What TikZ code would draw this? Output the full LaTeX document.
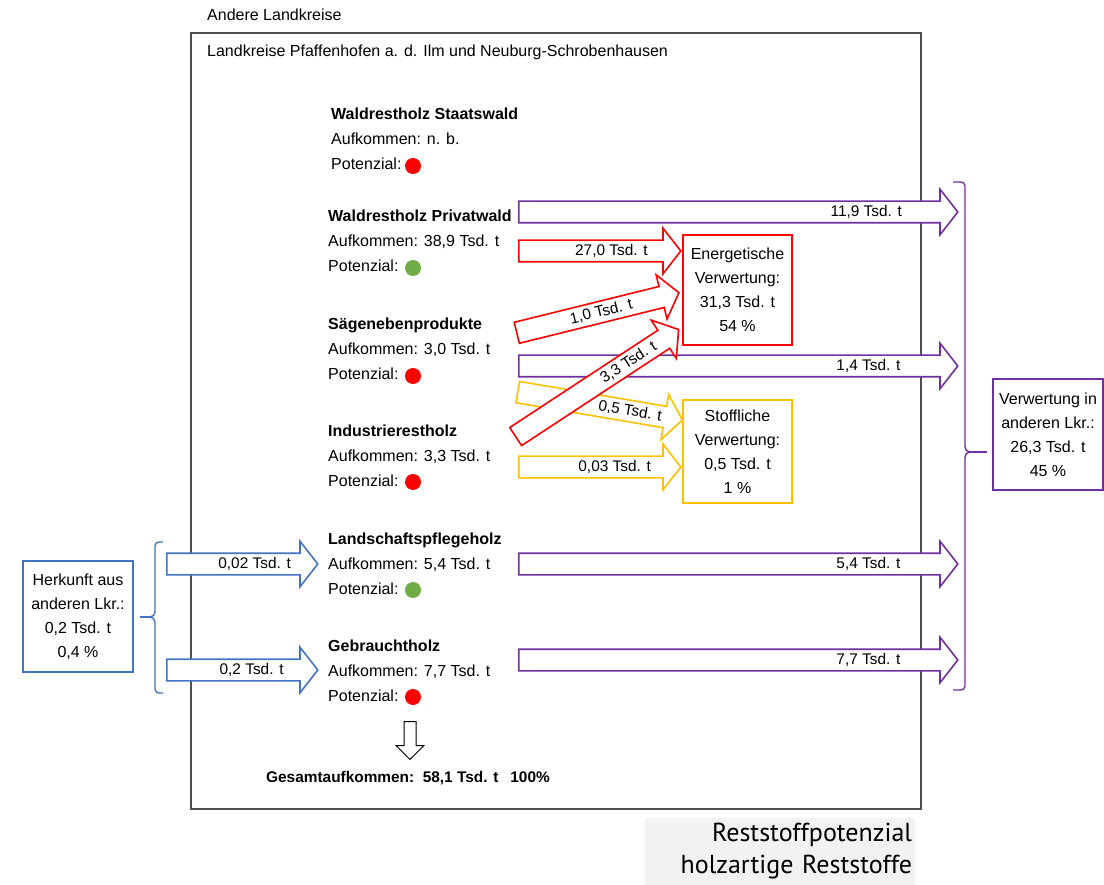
\documentclass[tikz,border=0pt]{standalone}
\usepackage{fontspec}
\setmainfont{Liberation Sans}
\newfontfamily\notefont{PT Sans}
\usetikzlibrary{shapes.arrows,positioning,calc}

\definecolor{flowpurple}{HTML}{7030A0}
\definecolor{flowred}{HTML}{FF0000}
\definecolor{flowyellow}{HTML}{FFC000}
\definecolor{flowblue}{HTML}{4472C4}
\definecolor{dotgreen}{HTML}{70AD47}
\definecolor{framegray}{HTML}{505050}
\definecolor{notegray}{HTML}{F2F2F2}

\tikzset{
  flow/.style={single arrow, draw=#1, fill=white, line width=1.6pt,
    single arrow head extend=12pt, single arrow tip angle=104,
    inner xsep=0pt, inner ysep=4.5pt, text height=8pt, text depth=3pt, anchor=tail},
  flowlabel/.style={font=\fontsize{15.4}{17}\selectfont, inner sep=0pt},
  source/.style={anchor=north west, inner sep=0pt, align=left,
    font=\fontsize{16}{25}\selectfont},
  dot/.style={circle, fill=#1, minimum size=16pt, inner sep=0pt},
  sinkbox/.style={draw=#1, line width=1.4pt, fill=white, align=center,
    minimum width=109pt, minimum height=110pt, inner sep=0pt,
    font=\fontsize{16}{24}\selectfont},
}

\begin{document}
\begin{tikzpicture}[x=1pt, y=-1pt]
  \useasboundingbox (0,0) rectangle (1104,885);

  % frame
  \node[anchor=west, inner sep=0pt, font=\fontsize{16}{18}\selectfont] (andere) at (207,15) {Andere Landkreise};
  \draw[framegray, line width=1.3pt] (191,33) rectangle (921,809);
  \node[anchor=west, inner sep=0pt, font=\fontsize{16}{18}\selectfont] (region) at (207,52) {Landkreise Pfaffenhofen a. d. Ilm und Neuburg-Schrobenhausen};

  % sources
  \node[source] (staatswald) at (331,108) {\textbf{Waldrestholz Staatswald}\\Aufkommen: n. b.\\Potenzial:};
  \node[source] (privatwald) at (328,210) {\textbf{Waldrestholz Privatwald}\\Aufkommen: 38,9 Tsd. t\\Potenzial:};
  \node[source] (saege) at (328,318) {\textbf{Sägenebenprodukte}\\Aufkommen: 3,0 Tsd. t\\Potenzial:};
  \node[source] (industrie) at (328,425) {\textbf{Industrierestholz}\\Aufkommen: 3,3 Tsd. t\\Potenzial:};
  \node[source] (landschaft) at (328,533) {\textbf{Landschaftspflegeholz}\\Aufkommen: 5,4 Tsd. t\\Potenzial:};
  \node[source] (gebraucht) at (328,640) {\textbf{Gebrauchtholz}\\Aufkommen: 7,7 Tsd. t\\Potenzial:};

  \node[dot=flowred]   (staatswald-dot) at (413,166) {};
  \node[dot=dotgreen]  (privatwald-dot) at (413,268) {};
  \node[dot=flowred]   (saege-dot)      at (413,376) {};
  \node[dot=flowred]   (industrie-dot)  at (413,482) {};
  \node[dot=dotgreen]  (landschaft-dot) at (413,590) {};
  \node[dot=flowred]   (gebraucht-dot)  at (413,697) {};

  % sinks
  \node[sinkbox=flowred] (energie) at (737.5,290) {Energetische\\Verwertung:\\31,3 Tsd. t\\54 \%};
  \node[sinkbox=flowyellow, minimum height=103pt] (stoff) at (737.5,451.5) {Stoffliche\\Verwertung:\\0,5 Tsd. t\\1 \%};
  \node[sinkbox=flowpurple, minimum width=110pt, minimum height=111pt] (export) at (1048,434.5) {Verwertung in\\anderen Lkr.:\\26,3 Tsd. t\\45 \%};
  \node[sinkbox=flowblue, minimum width=110pt, minimum height=111pt] (import) at (78,616.5) {Herkunft aus\\anderen Lkr.:\\0,2 Tsd. t\\0,4 \%};

  % purple flows to other districts
  \node[flow=flowpurple, minimum height=439pt] (f-privat-ex) at (518,212) {};
  \node[flow=flowpurple, minimum height=439pt] (f-saege-ex) at (518,366) {};
  \node[flow=flowpurple, minimum height=439pt] (f-landschaft-ex) at (518,564) {};
  \node[flow=flowpurple, minimum height=439pt] (f-gebraucht-ex) at (518,660) {};
  \node[flowlabel] at ($(f-privat-ex.tail)!0.79!(f-privat-ex.tip)$) {11,9 Tsd. t};
  \node[flowlabel] at ($(f-saege-ex.tail)!0.795!(f-saege-ex.tip)$) {1,4 Tsd. t};
  \node[flowlabel] at ($(f-landschaft-ex.tail)!0.795!(f-landschaft-ex.tip)$) {5,4 Tsd. t};
  \node[flowlabel] at ($(f-gebraucht-ex.tail)!0.795!(f-gebraucht-ex.tip)$) {7,7 Tsd. t};

  % energetic use
  \node[flow=flowred, minimum height=162pt] (f-privat-en) at (518,251) {};
  \node[flow=flowred, minimum height=167pt, rotate=13.9] (f-saege-en) at (516,333) {};
  \node[flowlabel] at ($(f-privat-en.tail)!0.57!(f-privat-en.tip)$) {27,0 Tsd. t};
  \node[flowlabel, rotate=13.9] at ($(f-saege-en.tail)!0.52!(f-saege-en.tip)$) {1,0 Tsd. t};

  % material use
  \node[flow=flowyellow, minimum height=167pt, rotate=-9.6] (f-saege-st) at (517,392) {};
  \node[flow=flowyellow, minimum height=162pt] (f-industrie-st) at (518,467) {};
  \node[flowlabel, rotate=-9.6] at ($(f-saege-st.tail)!0.68!(f-saege-st.tip)$) {0,5 Tsd. t};
  \node[flowlabel] at ($(f-industrie-st.tail)!0.59!(f-industrie-st.tip)$) {0,03 Tsd. t};

  \node[flow=flowred, minimum height=195pt, rotate=33.3] (f-industrie-en) at (515,437) {};
  \node[flowlabel, rotate=33.3] at ($(f-industrie-en.tail)!0.69!(f-industrie-en.tip)$) {3,3 Tsd. t};

  % imports
  \node[flow=flowblue, minimum height=151pt] (f-import-landschaft) at (166,564) {};
  \node[flow=flowblue, minimum height=151pt] (f-import-gebraucht) at (166,670) {};
  \node[flowlabel] at ($(f-import-landschaft.tail)!0.58!(f-import-landschaft.tip)$) {0,02 Tsd. t};
  \node[flowlabel] at ($(f-import-gebraucht.tail)!0.56!(f-import-gebraucht.tip)$) {0,2 Tsd. t};

  % braces
  \draw[flowpurple, line width=1.4pt] (953,182) -- (961,182) to[out=0,in=90] (965,186) -- (965,447)
    to[out=-90,in=180] (970,452) to[out=180,in=90] (965,457) -- (965,686) to[out=-90,in=0] (961,690) -- (953,690);
  \draw[flowpurple, line width=1.4pt] (970,452) -- (987,452);
  \draw[flowblue, line width=1.4pt] (163,542) -- (159,542) to[out=180,in=90] (155,546) -- (155,612)
    to[out=-90,in=0] (150,617) to[out=0,in=90] (155,622) -- (155,689) to[out=-90,in=180] (159,693) -- (163,693);
  \draw[flowblue, line width=1.4pt] (150,617) -- (140,617);

  % total
  \node[single arrow, draw=black, fill=white, line width=1pt, minimum height=38pt,
    single arrow head extend=8pt, single arrow tip angle=90, inner sep=0pt,
    text height=6pt, text depth=0pt, inner xsep=0pt, inner ysep=2.5pt,
    anchor=tail, rotate=-90] (sum-arrow) at (410,721) {};
  \node[anchor=west, inner sep=0pt, font=\bfseries\fontsize{15.4}{17}\selectfont] (total) at (266,778)
    {Gesamtaufkommen:\ \ 58,1 Tsd. t\hspace{12pt}100\%};

  % caption
  \node[fill=notegray, minimum width=270pt, minimum height=67pt, text width=264pt, align=right,
    inner sep=3pt, font=\notefont\fontsize{26}{32}\selectfont] (note) at (780,851.5)
    {Reststoffpotenzial\\holzartige Reststoffe};
\end{tikzpicture}
\end{document}
